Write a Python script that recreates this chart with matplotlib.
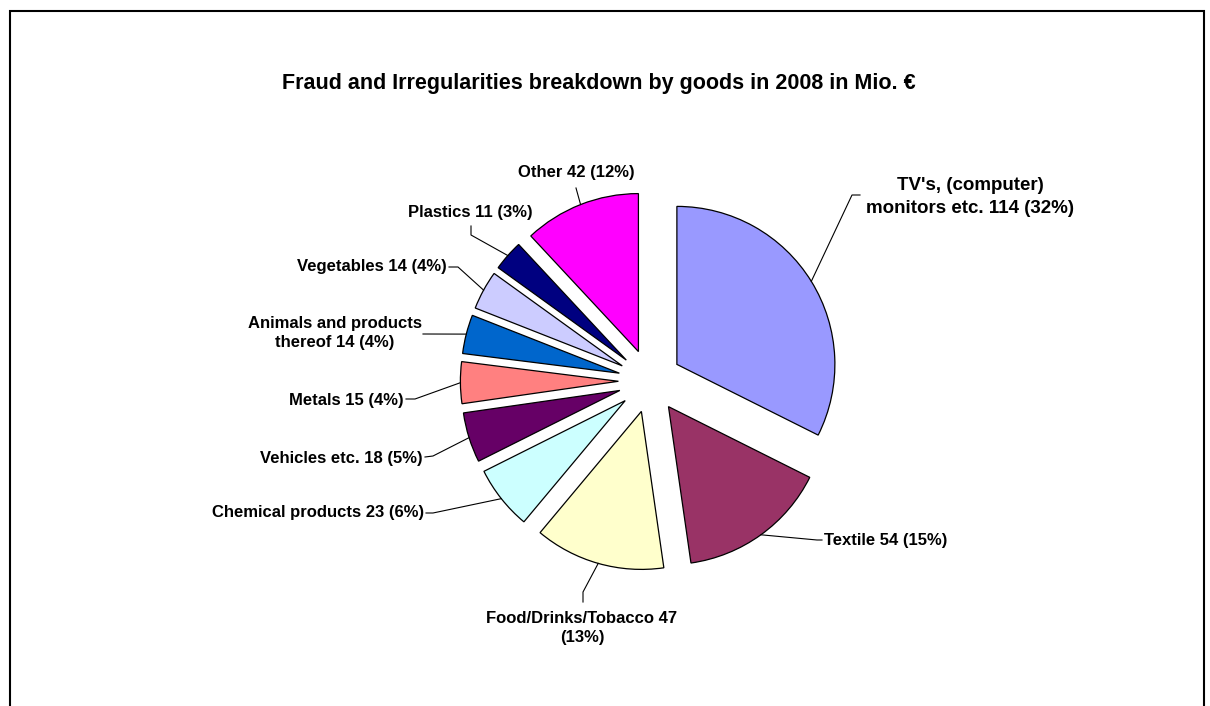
import numpy as np
import matplotlib
matplotlib.use("Agg")
import matplotlib.pyplot as plt
from matplotlib.patches import Rectangle

plt.rcParams['font.family'] = ['Liberation Sans', 'DejaVu Sans']

categories = ["TV's, (computer)\nmonitors etc.", "Textile", "Food/Drinks/Tobacco", "Chemical products",
              "Vehicles etc.", "Metals", "Animals and products\nthereof", "Vegetables", "Plastics", "Other"]
values = [114, 54, 47, 23, 18, 15, 14, 14, 11, 42]
percents = [32, 15, 13, 6, 5, 4, 4, 4, 3, 12]
colors = ['#9999FF', '#993366', '#FFFFCC', '#CCFFFF', '#660066', '#FF8080',
          '#0066CC', '#CCCCFF', '#000080', '#FF00FF']
title = "Fraud and Irregularities breakdown by goods in 2008 in Mio. €"

W, H = 1210, 706
fig = plt.figure(figsize=(W / 100, H / 100), dpi=100)
ax = fig.add_axes([0, 0, 1, 1])

def Y(y):
    return H - y

cx, cy, R = 650, 381, 158
explode_frac = 0.2
wedges, _ = ax.pie(values, colors=colors, startangle=90, counterclock=False,
                   explode=[explode_frac * R] * len(values), radius=R, center=(cx, Y(cy)),
                   frame=True, wedgeprops=dict(edgecolor='black', linewidth=0.9))
ax.set_xlim(0, W)
ax.set_ylim(0, H)
ax.set_aspect('equal')
for s in ax.spines.values():
    s.set_visible(False)
ax.set_xticks([]); ax.set_yticks([])

# frame
fig.patches.append(Rectangle((10 / W, -0.05), (1204 - 10) / W, (706 - 11) / H + 0.05,
                             transform=fig.transFigure, fill=False, edgecolor='black',
                             linewidth=1.5))

ax.text(599, Y(84), title, ha='center', va='center', fontsize=15.5, fontweight='bold')

# label layout: (text x, text y, ha, fontsize, linespacing, [polyline points after edge])
layout = [
    (970, 197, 'center', 13.5, 1.5, [(852, 195), (860, 195)]),
    (824, 540, 'left', 12, 1.2, [(817, 540), (822, 540)]),
    (582, 628, 'center', 12, 1.4, [(583, 592), (583, 602)]),
    (424, 513, 'right', 12, 1.2, [(433, 513), (426, 513)]),
    (423, 458, 'right', 12, 1.2, [(433, 456), (425, 457)]),
    (404, 400, 'right', 12, 1.2, [(415, 399), (406, 399)]),
    (335, 333, 'center', 12, 1.4, [(423, 334)]),
    (447, 267, 'right', 12, 1.2, [(458, 267), (449, 267)]),
    (470, 212, 'center', 12, 1.2, [(471, 235), (471, 226)]),
    (576, 173, 'center', 12, 1.2, [(576, 188)]),
]

for w, cat, v, p, (tx, ty, ha, fs, ls, pts) in zip(wedges, categories, values, percents, layout):
    ang = np.deg2rad((w.theta1 + w.theta2) / 2)
    ex, ey = w.center[0] + R * np.cos(ang), w.center[1] + R * np.sin(ang)
    xs = [ex] + [q[0] for q in pts]
    ys = [ey] + [Y(q[1]) for q in pts]
    ax.plot(xs, ys, color='black', linewidth=0.8)
    if cat.startswith('Food'):
        lab = f"{cat} {v}\n({p}%)"
    else:
        lab = f"{cat} {v} ({p}%)"
    ax.text(tx, Y(ty), lab, ha=ha, va='center', fontsize=fs, fontweight='bold',
            multialignment='center', linespacing=ls)

fig.savefig('out.png', dpi=100)
